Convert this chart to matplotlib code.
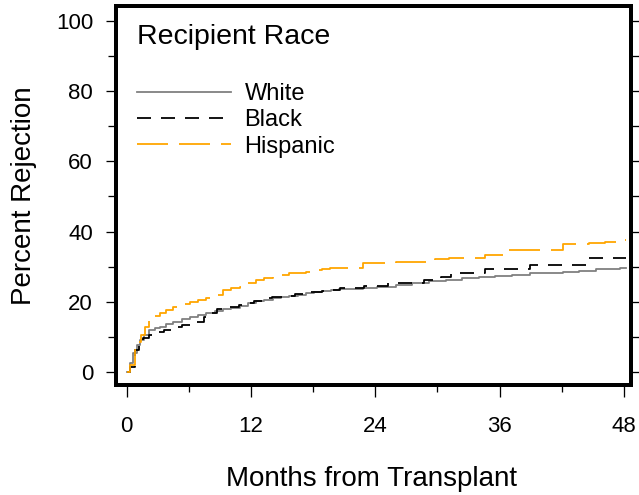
import numpy as np
import matplotlib
matplotlib.use("Agg")
import matplotlib.pyplot as plt
from matplotlib.patches import Rectangle

plt.rcParams['font.family'] = ['Liberation Sans', 'DejaVu Sans']
plt.rcParams['lines.scale_dashes'] = False

# ---- data ----
white_t = [0, 0.3, 0.6, 1.0, 1.3, 1.7, 2.2, 2.7, 3.2, 3.8, 4.5, 5.3, 6.1, 6.9, 7.7, 8.5,
           9.3, 10.1, 10.9, 11.7, 12.5, 13.3, 14.1, 14.9, 15.7, 16.5, 17.3, 18.1, 18.9,
           19.7, 20.5, 21.6, 22.8, 24.2, 26.0, 27.5, 29.2, 30.8, 32.4, 34.0, 35.6, 37.2,
           38.9, 40.5, 42.1, 43.7, 45.3, 46.5, 47.6, 48.2]
white_v = [0, 2.5, 5.2, 7.5, 9.0, 10.5, 11.9, 12.4, 12.8, 13.6, 14.3, 14.9, 15.5, 16.1,
           16.7, 17.2, 17.8, 18.3, 18.8, 19.5, 20.2, 20.6, 21.0, 21.3, 21.6, 22.0, 22.5,
           22.8, 23.0, 23.2, 23.5, 23.6, 23.9, 24.2, 24.7, 25.3, 25.9, 26.3, 26.7, 27.0,
           27.3, 27.7, 28.1, 28.3, 28.5, 28.8, 29.2, 29.4, 29.7, 29.7]

black_t = [0, 0.3, 0.8, 1.2, 1.6, 2.2, 2.9, 3.6, 4.5, 5.3, 6.1, 6.7, 7.5, 8.1, 8.7, 9.3,
           10.0, 10.8, 11.6, 12.3, 13.1, 14.0, 15.0, 16.2, 17.3, 18.9, 19.6, 20.6, 22.9,
           25.2, 28.7, 30.3, 31.3, 34.6, 38.9, 44.3, 48.2]
black_v = [0, 1.4, 6.2, 8.5, 9.5, 10.5, 11.4, 12.0, 12.8, 13.4, 14.0, 14.3, 15.7, 16.8,
           17.8, 18.2, 18.6, 19.1, 19.7, 20.3, 21.0, 21.3, 21.6, 22.2, 22.8, 23.1, 23.3,
           23.8, 24.5, 25.2, 26.2, 27.1, 28.1, 29.2, 30.4, 32.4, 32.4]

hisp_t = [0, 0.3, 0.8, 1.1, 1.4, 1.8, 2.2, 2.7, 3.2, 3.8, 4.5, 5.3, 6.1, 6.9, 7.7, 8.5,
          9.3, 10.1, 10.9, 11.7, 12.5, 13.3, 14.1, 14.9, 15.7, 16.5, 17.3, 18.1, 18.9,
          19.6, 22.8, 26.0, 29.8, 31.1, 34.6, 36.4, 42.1, 44.6, 46.2, 47.8, 48.2]
hisp_v = [0, 2.0, 6.2, 8.5, 10.5, 12.8, 14.7, 15.8, 16.7, 17.5, 18.4, 19.2, 20.0, 20.5,
          21.0, 22.0, 23.3, 23.8, 24.3, 25.2, 26.2, 26.6, 27.1, 27.6, 28.1, 28.3, 28.5,
          28.9, 29.2, 29.5, 30.9, 31.4, 32.1, 32.5, 33.3, 34.7, 36.3, 36.8, 37.0, 37.6, 37.6]

series_labels = ['White', 'Black', 'Hispanic']
x_ticks = [0, 12, 24, 36, 48]
y_ticks = [0, 20, 40, 60, 80, 100]

# ---- figure ----
W, H = 639, 495
fig = plt.figure(figsize=(W / 100, H / 100), dpi=100)
L, R, B, T = 116, 631, 385, 6
ax = fig.add_axes([L / W, 1 - B / H, (R - L) / W, (B - T) / H])

px = 0.72  # points per pixel
lw = 1.8 * px
ax.plot(white_t, white_v, drawstyle='steps-post', color='#808080', lw=lw, label=series_labels[0])
ax.plot(black_t, black_v, drawstyle='steps-post', color='black', lw=lw,
        dashes=(14 * px, 10 * px), label=series_labels[1])
ax.plot(hisp_t, hisp_v, drawstyle='steps-post', color='#FFA500', lw=lw,
        dashes=(31 * px, 11 * px), label=series_labels[2])

ax.set_xlim(-1.03, 48.68)
ax.set_ylim(-3.8, 104.37)

# frame
for s in ax.spines.values():
    s.set_visible(False)
ax.add_patch(Rectangle((0, 0), 1, 1, transform=ax.transAxes, fill=False,
                       lw=4 * px, ec='black', clip_on=False, zorder=5))

ax.set_xticks(x_ticks)
ax.set_xticks(np.arange(6, 48, 12), minor=True)
ax.set_yticks(y_ticks)
ax.set_yticks(np.arange(10, 100, 20), minor=True)
ax.tick_params(axis='x', which='major', length=12 * px, width=1.3 * px, pad=19 * px,
               labelsize=16, direction='out')
ax.tick_params(axis='x', which='minor', length=7 * px, width=1.3 * px, direction='out')
ax.tick_params(axis='y', which='major', length=10 * px, width=1.3 * px, pad=13 * px,
               labelsize=16, direction='out')
ax.tick_params(axis='y', which='minor', length=8 * px, width=1.3 * px, direction='out')

sec = ax.secondary_yaxis('right')
sec.set_yticks(np.arange(0, 101, 10))
sec.tick_params(length=8 * px, width=1.3 * px, labelright=False, direction='out')
sec.spines['right'].set_visible(False)

ax.set_xlabel('Months from Transplant', fontsize=20)
ax.xaxis.set_label_coords((372 - L) / (R - L), (B - 486) / (B - T))
ax.xaxis.label.set_verticalalignment('baseline')
ax.set_ylabel('Percent Rejection', fontsize=20)
ax.yaxis.set_label_coords((31 - L) / (R - L), 0.5)
ax.yaxis.label.set_verticalalignment('baseline')

# legend
fig.text(137 / W, 1 - 37.5 / H, 'Recipient Race', fontsize=20.5, ha='left', va='center')
ax.legend(loc='upper left', bbox_to_anchor=(137 / W, 1 - 83 / H), bbox_transform=fig.transFigure,
          frameon=False, fontsize=17, handlelength=4.0, handletextpad=0.55,
          labelspacing=0.18, borderpad=0, borderaxespad=0)

fig.savefig('out.png', dpi=100)
